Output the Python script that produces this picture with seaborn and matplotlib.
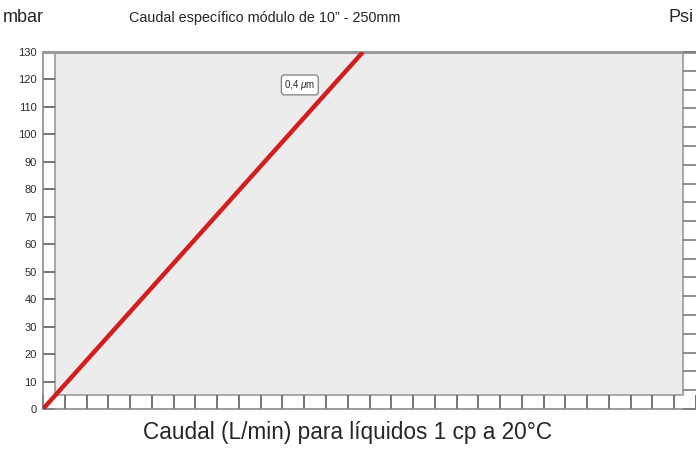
import numpy as np
import pandas as pd
import matplotlib
matplotlib.use("Agg")
import matplotlib.pyplot as plt
import matplotlib.patches as patches
import seaborn as sns

# datos
caudal = [0, 14.7]          # L/min
presion = [0, 130]          # mbar
y_ticks = list(range(0, 140, 10))
x_ticks = list(range(0, 31))
psi_ticks = [i / 10 for i in range(0, 20)]
etiqueta = "0,4 $\\mu$m"
etiqueta_pos = (11.8, 118)

MBAR_A_PSI = 1 / 68.948

df = pd.DataFrame({"caudal": caudal, "presion": presion})

sns.set_style("white")
plt.rcParams['font.family'] = ['Liberation Sans', 'DejaVu Sans']
plt.rcParams['mathtext.fontset'] = 'custom'
plt.rcParams['mathtext.it'] = 'Liberation Sans:italic'
plt.rcParams['mathtext.rm'] = 'Liberation Sans'

fig = plt.figure(figsize=(6.96, 4.59), dpi=100)
ax = fig.add_axes([43 / 696, 50 / 459, 653 / 696, 357 / 459])
ax.set_facecolor("white")

# zona gris interior (las reglas quedan en blanco)
fondo = patches.Rectangle((12 / 653, 14 / 357), 628 / 653, 1 - 14 / 357,
                          transform=ax.transAxes, facecolor="#ececec",
                          edgecolor="#9a9a9a", linewidth=1.2, zorder=0.5)
ax.add_patch(fondo)

sns.lineplot(data=df, x="caudal", y="presion", ax=ax, color="#d41e1e",
             linewidth=3.2, zorder=3)
for l in ax.lines:
    l.set_solid_capstyle("butt")

ax.set_xlim(0, 30)
ax.set_ylim(0, 130)
ax.set_yticks(y_ticks)
ax.set_xticks(x_ticks)
ax.set_xticklabels([])
ax.set_xlabel("")
ax.set_ylabel("")
ax.tick_params(axis="y", direction="in", length=8.6, width=1.3, color="#6a6a6a",
               labelsize=8, labelcolor="#2a2a2a", pad=4.5, left=True)
ax.tick_params(axis="x", direction="in", length=10, width=1.3, color="#6a6a6a",
               bottom=True)

for s in ["left", "bottom"]:
    ax.spines[s].set_color("#8a8a8a")
    ax.spines[s].set_linewidth(1.2)
ax.spines["top"].set_color("#9a9a9a")
ax.spines["top"].set_linewidth(2.2)
ax.spines["right"].set_visible(False)

# eje derecho en psi
ax2 = ax.twinx()
ax2.set_ylim(0, 130 * MBAR_A_PSI)
ax2.set_yticks(psi_ticks)
ax2.set_yticklabels([])
ax2.tick_params(axis="y", direction="in", length=9.4, width=1.2, color="#7a7a7a",
                right=True)
for s in ax2.spines.values():
    s.set_visible(False)

ax.text(etiqueta_pos[0], etiqueta_pos[1], etiqueta, fontsize=7, ha="center",
        va="center", zorder=4,
        bbox=dict(boxstyle="round,pad=0.3", facecolor="white",
                  edgecolor="#8a8a8a", linewidth=1))

fig.text(3 / 696, 1 - 18 / 459, "mbar", fontsize=13, ha="left", va="center")
fig.text(265 / 696, 1 - 18 / 459, "Caudal específico módulo de 10” - 250mm",
         fontsize=10.4, ha="center", va="center")
fig.text(668 / 696, 1 - 18 / 459, "Psi", fontsize=13, ha="left", va="center")
fig.text(348 / 696, 1 - 432 / 459, "Caudal (L/min) para líquidos 1 cp a 20°C",
         fontsize=16.3, ha="center", va="center")

fig.savefig("out.png", dpi=100)
